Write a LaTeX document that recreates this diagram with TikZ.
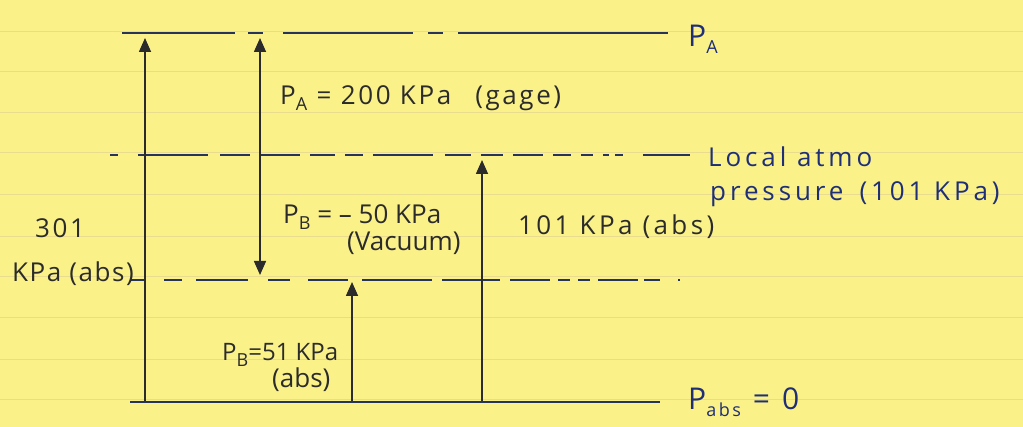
\documentclass[tikz,border=0pt]{standalone}
\usepackage{fontspec}
\setmainfont{Open Sans}
\usetikzlibrary{arrows.meta}
\definecolor{paper}{HTML}{FBF189}
\definecolor{ruleline}{HTML}{EADC8E}
\definecolor{ink}{HTML}{26335A}
\definecolor{pen}{HTML}{2B2B2B}
\definecolor{blueink}{HTML}{1E2F78}
\newcommand{\Sb}[1]{\raisebox{-0.4ex}{\fontsize{18}{18}\selectfont #1}}
\newcommand{\Ls}[1]{\addfontfeature{LetterSpace=#1}}
\begin{document}
\begin{tikzpicture}[x=1pt,y=-1pt,
  level/.style={draw=ink, line width=2.2pt},
  arr/.style={draw=pen, line width=1.6pt, -{Triangle[width=12pt,length=14pt]}},
  dbl/.style={draw=pen, line width=1.6pt, {Triangle[width=12pt,length=14pt]}-{Triangle[width=12pt,length=14pt]}},
  lab/.style={anchor=base west, inner sep=0pt, text=pen, font=\fontsize{26}{30}\selectfont},
  bluelab/.style={lab, text=blueink}]
\fill[paper] (0,0) rectangle (1023,427);
\useasboundingbox (0,0) rectangle (1023,427);
\foreach \yy in {32,72,113,153,195,237,277,318,360,400}
  \draw[ruleline, line width=1pt] (0,\yy) -- (1023,\yy);

% level lines
\coordinate (topL) at (122,33);  \coordinate (topR) at (668,33);
\coordinate (atmL) at (110,155); \coordinate (atmR) at (690,155);
\coordinate (pbL)  at (130,280); \coordinate (pbR)  at (680,280);
\coordinate (zeroL) at (130,402); \coordinate (zeroR) at (660,402);

\draw[level, dash pattern=on 113pt off 13pt on 15pt off 20pt on 130pt off 15pt on 15pt off 15pt on 230pt] (topL) -- (topR);
\draw[level, dash pattern=on 8pt off 20pt on 70pt off 12pt on 30pt off 10pt on 40pt off 10pt on 25pt off 10pt on 18pt off 10pt on 60pt off 12pt on 26pt off 10pt on 22pt off 10pt on 30pt off 10pt on 18pt off 10pt on 12pt off 10pt on 6pt off 6pt] (atmL) -- (atmR);
\draw[level, dash pattern=on 16pt off 18pt on 18pt off 14pt on 52pt off 20pt on 22pt off 18pt on 40pt off 14pt on 70pt off 10pt on 58pt off 10pt on 40pt off 8pt on 12pt off 8pt on 12pt off 8pt on 40pt off 6pt] (pbL) -- (pbR);
\draw[level] (zeroL) -- (zeroR);

% arrows
\coordinate (a1b) at (145,401); \coordinate (a1t) at (145,38);
\coordinate (a2t) at (260,38);  \coordinate (a2b) at (260,275);
\coordinate (a3b) at (352,401); \coordinate (a3t) at (352,282);
\coordinate (a4b) at (482,401); \coordinate (a4t) at (482,160);
\draw[arr] (a1b) -- (a1t);
\draw[dbl] (a2t) -- (a2b);
\draw[arr] (a3b) -- (a3t);
\draw[arr] (a4b) -- (a4t);

% labels
\node[bluelab, font=\fontsize{30}{34}\selectfont] (lpa) at (688,47) {P\Sb{A}};
\node[lab] (lgage) at (280,105) {\Ls{10}P\Sb{A} = 200 KPa\hspace{24pt}(gage)};
\node[bluelab] (latm1) at (708,167) {\Ls{15}Local atmo};
\node[bluelab] (latm2) at (710,201) {\Ls{15}pressure\hspace{16pt}(101 KPa)};
\node[lab] (lvac1) at (283,224) {P\Sb{B} = – 50 KPa};
\node[lab] (lvac2) at (347,251) {(Vacuum)};
\node[lab] (l301a) at (35,238) {\Ls{10}301};
\node[lab] (l301b) at (12,282) {\Ls{6}KPa\hspace{8pt}(abs)};
\node[lab] (l101) at (518,235) {\Ls{13}101 KPa\hspace{10pt}(abs)};
\node[lab, font=\fontsize{24}{28}\selectfont] (l51a) at (222,361) {P\Sb{B}=51 KPa};
\node[lab] (l51b) at (272,388) {(abs)};
\node[bluelab, font=\fontsize{30}{34}\selectfont] (lzero) at (688,410) {\Ls{14}P\Sb{abs} = 0};
\end{tikzpicture}
\end{document}
